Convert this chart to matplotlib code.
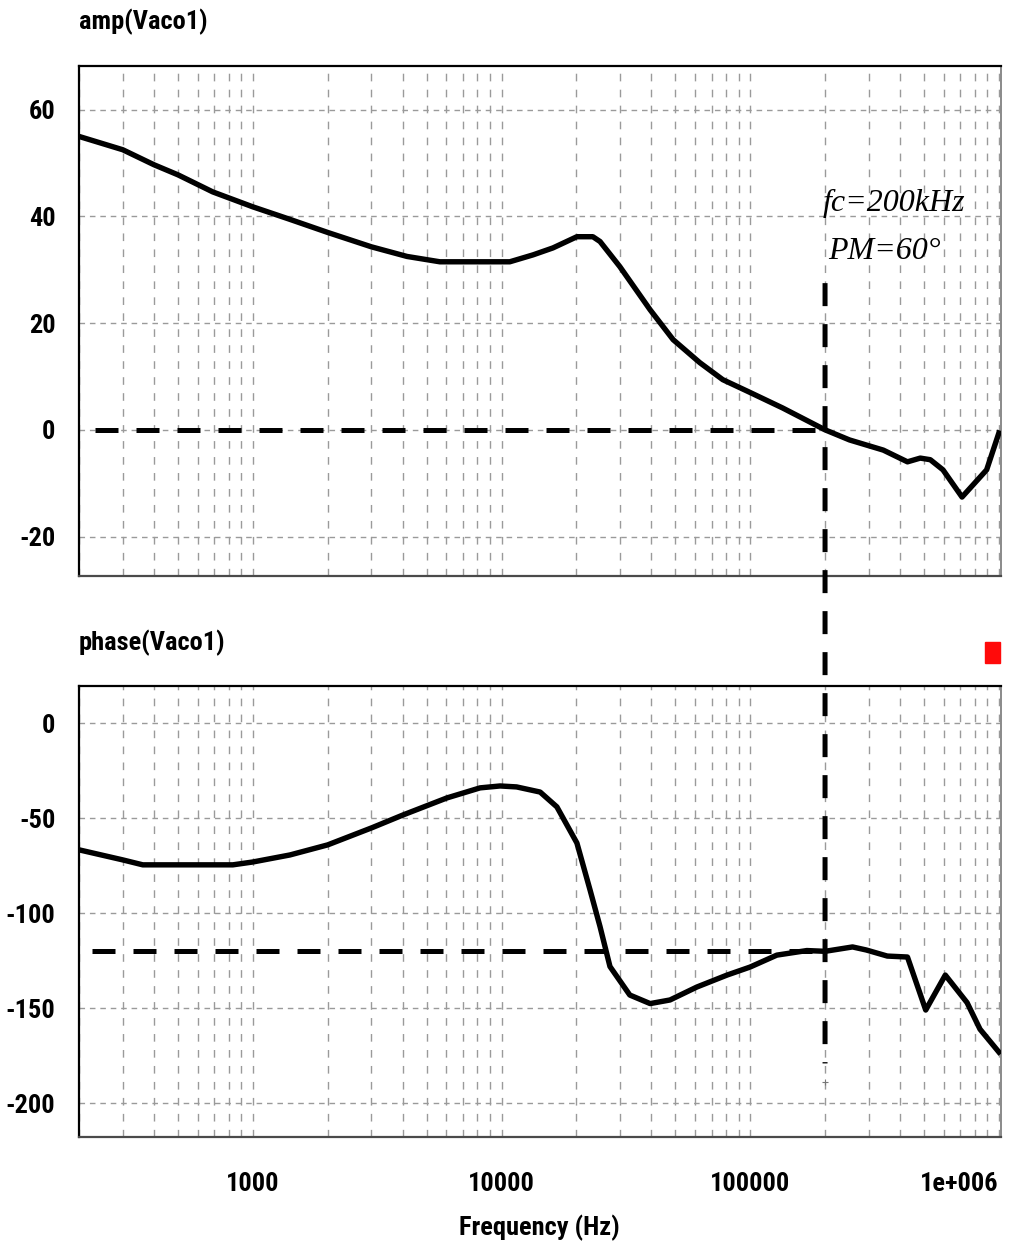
import matplotlib
matplotlib.use("Agg")
import matplotlib.pyplot as plt
from matplotlib import font_manager as fm
from matplotlib.patches import ConnectionPatch, Rectangle
from matplotlib.ticker import FixedLocator, NullFormatter

# ---- loop-gain Bode data (frequency in Hz) ----
amp_freq = [200, 300, 400, 500, 690, 1000, 1400, 2000, 3000, 4170, 5650,
            10800, 13400, 16100, 20100, 23300, 24900, 29900, 39600, 49000,
            62700, 77600, 98900, 135000, 200000, 251000, 343000, 429000,
            483000, 530000, 596000, 711000, 893000, 1000000]
amp_db = [55.0, 52.5, 49.7, 47.8, 44.6, 41.8, 39.5, 37.0, 34.3, 32.5, 31.5,
          31.5, 32.8, 34.1, 36.2, 36.2, 35.3, 30.6, 22.5, 16.9,
          12.6, 9.4, 7.1, 4.1, 0.0, -1.9, -3.8, -6.0,
          -5.3, -5.6, -7.5, -12.6, -7.5, -0.6]

ph_freq = [200, 300, 361, 831, 1000, 1410, 2000, 3010, 4010, 6030, 8200,
           9870, 11500, 14300, 16700, 20100, 22700, 24900, 27300, 32800,
           39600, 47600, 61000, 80700, 99800, 128000, 169000, 200000,
           258000, 293000, 356000, 429000, 508000, 609000, 745000, 840000,
           1000000]
ph_deg = [-66.6, -71.9, -74.5, -74.5, -73.0, -69.3, -64.0, -55.0, -48.3,
          -39.3, -34.0, -33.0, -33.5, -36.2, -44.0, -63.0, -87.7, -107.0,
          -128.0, -143.0, -147.5, -145.6, -138.8, -132.5, -128.3, -122.0,
          -119.6, -120.0, -117.7, -119.3, -122.5, -123.0, -150.9, -132.5,
          -147.0, -161.0, -173.0]

# crossover annotation
fc_hz = 200000
pm_phase = -120.0
amp_ticks = [60, 40, 20, 0, -20]
ph_ticks = [0, -50, -100, -150, -200]
x_ticks = [1000, 10000, 100000, 1000000]
x_tick_labels = ["1000", "10000", "100000", "1e+006"]

W, H = 1009, 1247
fig = plt.figure(figsize=(W / 100, H / 100), dpi=100)

# narrow bold sans for labels; fall back to Roboto when no condensed face
_installed = {f.name for f in fm.fontManager.ttflist}
_label_family, _label_size = "Roboto", 16
for _name, _size in (("Roboto Condensed", 19), ("Liberation Sans Narrow", 19),
                     ("Open Sans Condensed", 19)):
    if _name in _installed:
        _label_family, _label_size = _name, _size
        break
label_font = dict(family=[_label_family, "DejaVu Sans"], weight="bold",
                  size=_label_size)


def frac(x0, y0, x1, y1):
    return [x0 / W, 1 - y1 / H, (x1 - x0) / W, (y1 - y0) / H]


ax1 = fig.add_axes(frac(79, 66, 1001, 576))
ax2 = fig.add_axes(frac(79, 686, 1001, 1137))

minor_x = [m * 10 ** e for e in range(2, 7) for m in range(1, 10)]
minor_x = [v for v in minor_x if 200 <= v <= 1000000]

for ax, yt, ylim in ((ax1, amp_ticks, (-27.4, 68.2)),
                     (ax2, ph_ticks, (-217.7, 19.6))):
    ax.set_xscale("log")
    ax.set_xlim(200, 1.02e6)
    ax.set_ylim(*ylim)
    # grid
    for v in minor_x:
        ax.axvline(v, color="#9a9a9a", lw=1.0, ls=(0, (5.5, 6)), zorder=1)
    for v in yt:
        ax.axhline(v, color="#9a9a9a", lw=1.0, ls=(0, (4, 3.5)), zorder=1)
    ax.set_yticks(yt)
    ax.set_yticklabels([str(v) for v in yt], fontdict=label_font)
    ax.xaxis.set_major_locator(FixedLocator(x_ticks))
    ax.xaxis.set_minor_formatter(NullFormatter())
    ax.tick_params(axis="both", which="both", length=0)
    ax.tick_params(axis="y", pad=17)
    ax.tick_params(axis="x", pad=25)
    ax.spines["top"].set_color("black")
    ax.spines["left"].set_color("black")
    ax.spines["top"].set_linewidth(1.6)
    ax.spines["left"].set_linewidth(1.6)
    ax.spines["right"].set_color("#8a8a8a")
    ax.spines["right"].set_linewidth(1.4)
    ax.spines["bottom"].set_color("#4a4a4a")
    ax.spines["bottom"].set_linewidth(1.6)

ax1.set_xticklabels([])
ax2.set_xticklabels(x_tick_labels, fontdict=label_font)
xl = ax2.get_xticklabels()
xl[-1].set_horizontalalignment("right")

# curves
ax1.plot(amp_freq, amp_db, color="black", lw=3.9, zorder=4,
         solid_joinstyle="round")
ax2.plot(ph_freq, ph_deg, color="black", lw=3.9, zorder=4,
         solid_joinstyle="round")

# crossover markers
dash = (0, (4.6, 3.6))
ax1.plot([231, fc_hz], [0, 0], color="black", lw=3.6, ls=dash, zorder=3,
         dash_capstyle="butt")
ax2.plot([225, fc_hz], [pm_phase, pm_phase], color="black", lw=3.6, ls=dash,
         zorder=3, dash_capstyle="butt")
con = ConnectionPatch(xyA=(fc_hz, 27.5), coordsA=ax1.transData,
                      xyB=(fc_hz, -179.0), coordsB=ax2.transData,
                      color="black", lw=3.6, linestyle=(0, (4.6, 3.6)),
                      capstyle="butt", zorder=5)
fig.add_artist(con)
ax2.plot([fc_hz], [-189], marker="+", color="#777777", ms=4, mew=0.8,
         zorder=5)

# annotation text
serif = ["Liberation Serif", "DejaVu Serif"]
ax1.text(0.807, 0.730, "fc=200kHz", transform=ax1.transAxes,
         family=serif, style="italic", size=23, ha="left", va="center")
ax1.text(0.813, 0.637, "PM=60°", transform=ax1.transAxes,
         family=serif, style="italic", size=23, ha="left", va="center")

# panel titles and x label
fig.text(79 / W, 1 - 22 / H, "amp(Vaco1)", ha="left", va="center",
         **label_font)
fig.text(79 / W, 1 - 643 / H, "phase(Vaco1)", ha="left", va="center",
         **label_font)
fig.text(539 / W, 1 - 1228 / H, "Frequency (Hz)", ha="center", va="center",
         **label_font)

# status marker
fig.patches.append(Rectangle((985 / W, 1 - 663 / H), 15 / W, 21 / H,
                             transform=fig.transFigure, color="#ff0a0a",
                             zorder=6))

fig.savefig("out.png", dpi=100, facecolor="white")
